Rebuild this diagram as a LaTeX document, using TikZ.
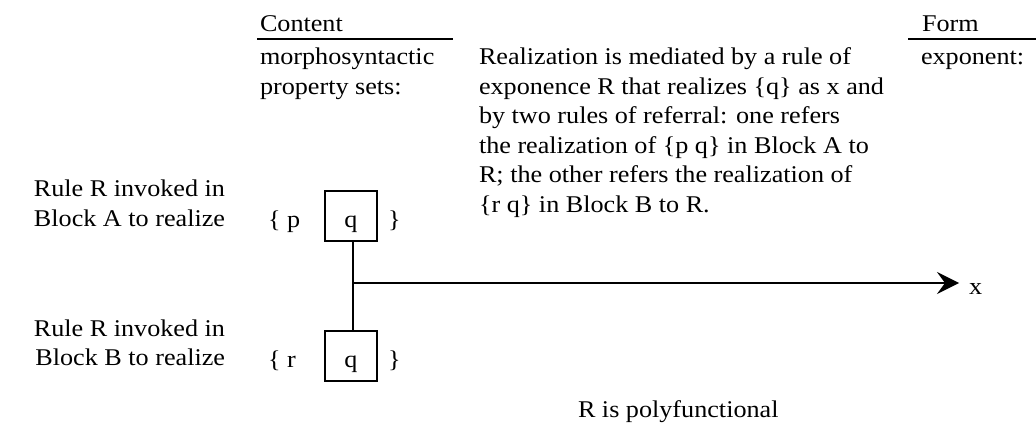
\documentclass[tikz,border=0pt]{standalone}
\usepackage{fontspec}
\setmainfont[FakeStretch=1.09]{Liberation Serif}
\usetikzlibrary{arrows.meta}
\newcommand\leftlines[1]{\vtop{\halign{##\hfil\cr#1\crcr}}}
\newcommand\rightlines[1]{\vtop{\halign{\hfil##\cr#1\crcr}}}
\begin{document}
\begin{tikzpicture}[x=1pt,y=-1pt,
  txt/.style={inner sep=0pt, outer sep=0pt, font=\fontsize{24}{29.5}\selectfont, anchor=base west},
  rule/.style={line width=2pt},
  qbox/.style={draw, line width=2pt, minimum width=52pt, minimum height=50pt, inner sep=0pt},
  conn/.style={line width=2pt}]
\useasboundingbox (0,0) rectangle (1036,430);
% headers
\node[txt] (content) at (260,32) {Content};
\node[txt] (form) at (922,32) {Form};
\coordinate (cl) at (257,39);
\coordinate (cr) at (453,39);
\coordinate (fl) at (908,39);
\coordinate (fr) at (1036,39);
\draw[rule] (cl) -- (cr);
\draw[rule] (fl) -- (fr);
\node[txt] (mps) at (260,65) {\leftlines{morphosyntactic\cr property sets:}};
\node[txt] (expo) at (921,65) {exponent:};
\node[txt] (expl) at (479,65) {\leftlines{Realization is mediated by a rule of\cr exponence R that realizes \{q\} as x and\cr by two rules of referral: one refers\cr the realization of \{p q\} in Block A to\cr R; the other refers the realization of\cr \{r q\} in Block B to R.}};
% block A
\node[txt, anchor=base east] (ruleA) at (225,197) {\rightlines{Rule R invoked in\cr Block A to realize}};
\node[txt] (openA) at (268,228) {\{ p};
\node[qbox] (boxA) at (351,216) {};
\node[txt, anchor=base] (qA) at (351,228) {q};
\node[txt] (closeA) at (388,228) {\}};
% block B
\node[txt, anchor=base east] (ruleB) at (225,336) {\rightlines{Rule R invoked in\cr Block B to realize}};
\node[txt] (openB) at (268,367) {\{ r};
\node[qbox] (boxB) at (351,356) {};
\node[txt, anchor=base] (qB) at (351,367) {q};
\node[txt] (closeB) at (388,367) {\}};
% connectors
\coordinate (junc) at (353,283);
\node[txt] (xlab) at (969,295) {x};
\coordinate (tip) at (959,283);
\draw[conn] ([xshift=2pt]boxA.south) -- ([xshift=2pt]boxB.north);
\draw[conn, -{Stealth[length=22pt,width=22pt,inset=8pt]}] (junc) -- (tip);
\node[txt] (poly) at (578,417) {R is polyfunctional};
\end{tikzpicture}
\end{document}
